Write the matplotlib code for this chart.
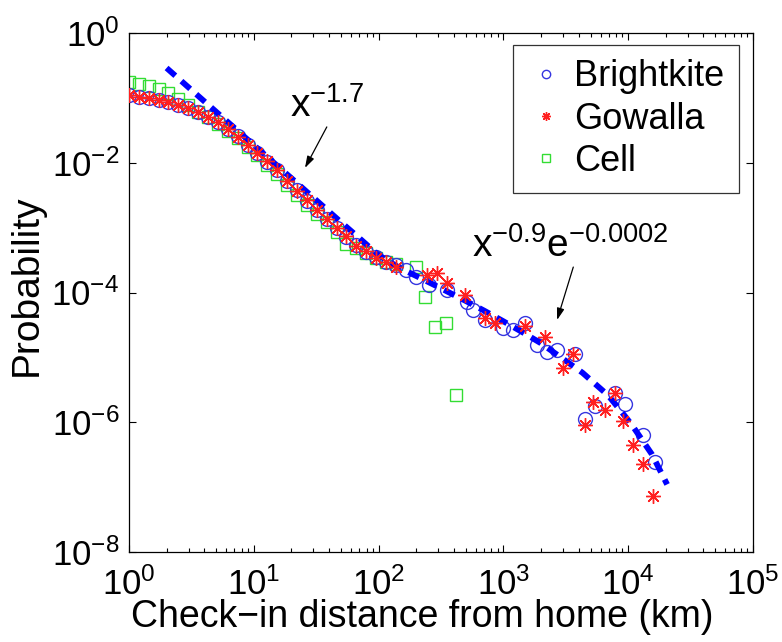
import matplotlib
matplotlib.use("Agg")
import matplotlib.pyplot as plt
from matplotlib.ticker import LogLocator, NullLocator, LogFormatterSciNotation

plt.rcParams['font.family'] = ['Liberation Sans', 'DejaVu Sans']
plt.rcParams['mathtext.fontset'] = 'custom'
plt.rcParams['mathtext.rm'] = 'Liberation Sans'
plt.rcParams['mathtext.it'] = 'Liberation Sans'

# ---------------- data ----------------
bk_x = [1.0, 1.2, 1.44, 1.73, 2.07, 2.49, 2.99, 3.58, 4.30, 5.16, 6.19, 7.43, 8.92, 10.7,
        12.8, 15.4, 18.5, 22.2, 26.6, 31.9, 38.3, 46.0, 55.2, 66.2, 79.5, 95.4, 114, 137,
        165, 198, 253, 353, 511, 571, 712, 993, 1195, 1490, 1860, 2235, 2690, 3750, 4510,
        5420, 7830, 9430, 13140, 16400]
bk_y = [0.111, 0.103, 0.0996, 0.0929, 0.0865, 0.0778, 0.0699, 0.0607, 0.0508, 0.0425,
        0.0330, 0.0255, 0.0188, 0.0142, 0.0103, 0.0077, 0.00525, 0.0038, 0.0026, 0.00187,
        0.00136, 0.00099, 0.00072, 0.00054, 0.00042, 0.000354, 0.000296, 0.000266,
        0.000223, 0.000174, 1.31e-4, 1.10e-4, 7.2e-5, 5.4e-5, 3.8e-5, 2.85e-5, 2.65e-5,
        3.4e-5, 1.56e-5, 1.22e-5, 1.31e-5, 1.13e-5, 1.13e-6, 1.79e-6, 2.84e-6, 1.92e-6,
        6.4e-7, 2.45e-7]

gw_x = [1.0, 1.2, 1.44, 1.73, 2.07, 2.49, 2.99, 3.58, 4.30, 5.16, 6.19, 7.43, 8.92, 10.7,
        12.8, 15.4, 18.5, 22.2, 26.6, 31.9, 38.3, 46.0, 55.2, 66.2, 79.5, 95.4, 114, 137,
        244, 294, 353, 492, 712, 857, 1490, 2155, 3005, 3610, 4510, 5230, 6520, 7830,
        9080, 10920, 13140, 15800]
gw_y = [0.110, 0.102, 0.0990, 0.0935, 0.0860, 0.0785, 0.0690, 0.0600, 0.0515, 0.0420,
        0.0335, 0.0250, 0.0190, 0.0140, 0.0105, 0.0076, 0.00530, 0.0037, 0.0027, 0.00185,
        0.00138, 0.00097, 0.00074, 0.00053, 0.00043, 0.000340, 0.000300, 0.000250,
        1.87e-4, 2.0e-4, 1.41e-4, 9.2e-5, 4.06e-5, 3.4e-5, 3.06e-5, 2.07e-5, 6.9e-6,
        1.13e-5, 9.1e-7, 2.06e-6, 1.55e-6, 2.84e-6, 1.05e-6, 4.5e-7, 2.29e-7, 7.3e-8]

cell_x = [1.0, 1.2, 1.44, 1.73, 2.07, 2.49, 2.99, 3.58, 4.30, 5.16, 6.19, 7.43, 8.92, 10.7,
          12.8, 15.4, 18.5, 22.2, 26.6, 31.9, 38.3, 46.0, 55.2, 66.2, 79.5, 95.4, 114, 137,
          198, 235, 283, 347, 417]
cell_y = [0.176, 0.164, 0.153, 0.137, 0.119, 0.0962, 0.0778, 0.0607, 0.0508, 0.0396,
          0.0309, 0.0241, 0.0175, 0.0132, 0.00925, 0.00672, 0.00455, 0.00319, 0.00224,
          0.00163, 0.00122, 0.00086, 0.00056, 0.00049, 0.00041, 0.00034, 0.000296,
          0.000275, 0.000248, 8.6e-5, 2.95e-5, 3.4e-5, 2.64e-6]

fit_x = [2, 3, 5, 7, 10, 15, 20, 30, 50, 70, 100, 150, 200, 300, 500, 700, 1000, 1500,
         2000, 3000, 4300, 6900, 8600, 10700, 15500, 20500]
fit_y = [0.289, 0.145, 0.0609, 0.0344, 0.0187, 0.0094, 0.00579, 0.0029, 0.00121, 6.9e-4,
         3.75e-4, 2.35e-4, 1.80e-4, 1.22e-4, 7.4e-5, 5.26e-5, 3.6e-5, 2.3e-5, 1.65e-5,
         9.5e-6, 5.8e-6, 2.6e-6, 1.55e-6, 9.1e-7, 3.2e-7, 1.1e-7]

labels = ["Brightkite", "Gowalla", "Cell"]
fit1_label = r"$\mathregular{x^{-1.7}}$"
fit2_label = r"$\mathregular{x^{-0.9}e^{-0.0002}}$"
x_label = "Check\u2212in distance from home (km)"
y_label = "Probability"

# ---------------- figure ----------------
W, H = 782, 642
fig = plt.figure(figsize=(W / 100, H / 100), dpi=100)
L, R, T, B = 129, 753, 33, 552
ax = fig.add_axes([L / W, 1 - B / H, (R - L) / W, (B - T) / H])
ax.set_xscale('log')
ax.set_yscale('log')

ast = (8, 2, 0)
ax.plot(fit_x, fit_y, color='#0000ff', lw=4.2, linestyle=(0, (2.0, 1.4)),
        solid_capstyle='butt', dash_capstyle='butt', zorder=3)
h1, = ax.plot(bk_x, bk_y, 'o', mfc='none', mec='#3535e0', mew=1.0, ms=10, zorder=2,
              label=labels[0])
h2, = ax.plot(gw_x, gw_y, ls='none', marker=ast, color='#ff2020', mew=1.0, ms=10.5,
              zorder=4, label=labels[1])
h3, = ax.plot(cell_x, cell_y, 's', mfc='none', mec='#33dd33', mew=1.0, ms=8.8, zorder=1,
              label=labels[2])

ax.set_xlim(1, 1e5)
ax.set_ylim(1e-8, 1)
ax.xaxis.set_major_locator(LogLocator(base=10, numticks=10))
ax.xaxis.set_minor_locator(LogLocator(base=10, subs=range(2, 10), numticks=20))
ax.yaxis.set_major_locator(LogLocator(base=100, numticks=10))
ax.yaxis.set_minor_locator(NullLocator())
ax.xaxis.set_major_formatter(LogFormatterSciNotation())
ax.yaxis.set_major_formatter(LogFormatterSciNotation())

ax.tick_params(which='both', direction='in', top=True, right=True, labelsize=25,
               width=0.8, colors='black')
ax.tick_params(which='major', length=5)
ax.tick_params(axis='x', which='major', pad=11)
ax.tick_params(axis='y', which='major', pad=7)
ax.tick_params(which='minor', length=3)
for s in ax.spines.values():
    s.set_linewidth(0.9)

ax.set_xlabel(x_label, fontsize=27)
ax.xaxis.set_label_coords(0.47, -0.091)
ax.set_ylabel(y_label, fontsize=28)
ax.yaxis.set_label_coords(-0.135, 0.515)

leg = ax.legend(handles=[h1, h2, h3], loc='upper right',
                bbox_to_anchor=((739 - L) / (R - L), 1 - (45 - T) / (B - T)),
                borderaxespad=0, fontsize=26, frameon=True, fancybox=False,
                edgecolor='black', handlelength=1.0, handletextpad=0.3,
                labelspacing=0.2, borderpad=0.4, markerscale=0.6)
leg.get_frame().set_linewidth(0.9)

ax.text(0.258, 0.838, fit1_label, transform=ax.transAxes, fontsize=28,
        ha='left', va='baseline')
ax.text(0.550, 0.568, fit2_label, transform=ax.transAxes, fontsize=28,
        ha='left', va='baseline')
ax.annotate('', xy=(0.282, 0.740), xytext=(0.317, 0.819), xycoords='axes fraction',
            textcoords='axes fraction',
            arrowprops=dict(arrowstyle='-|>,head_length=0.7,head_width=0.22',
                            color='black', lw=0.9, shrinkA=0, shrinkB=0))
ax.annotate('', xy=(0.686, 0.447), xytext=(0.712, 0.549), xycoords='axes fraction',
            textcoords='axes fraction',
            arrowprops=dict(arrowstyle='-|>,head_length=0.7,head_width=0.22',
                            color='black', lw=0.9, shrinkA=0, shrinkB=0))

fig.savefig('out.png', dpi=100)
